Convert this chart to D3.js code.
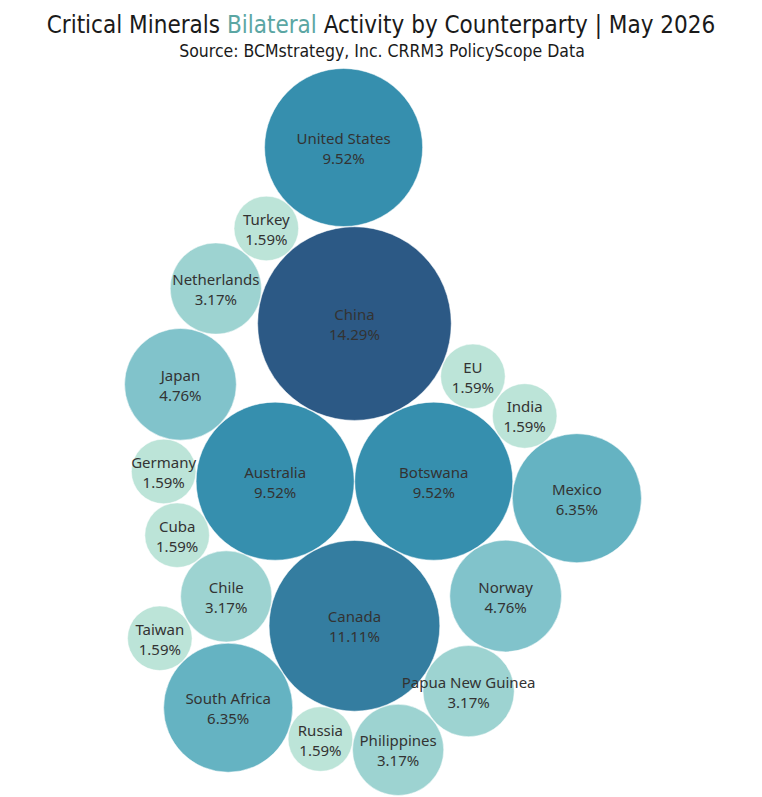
<!DOCTYPE html>
<html>
<head>
<meta charset="utf-8">
<script src="https://cdn.jsdelivr.net/npm/d3@7"></script>
<style>
  html, body { margin: 0; padding: 0; background: #fff; }
  svg { display: block; }
</style>
</head>
<body>
<div id="chart"></div>
<script>
// share of bilateral activity by counterparty (%)
const countries = ['China', 'Canada', 'United States', 'Australia', 'Botswana', 'Mexico', 'South Africa',
  'Japan', 'Norway', 'Netherlands', 'Chile', 'Papua New Guinea', 'Philippines',
  'Turkey', 'EU', 'India', 'Germany', 'Cuba', 'Taiwan', 'Russia'];
const shares = [14.29, 11.11, 9.52, 9.52, 9.52, 6.35, 6.35,
  4.76, 4.76, 3.17, 3.17, 3.17, 3.17,
  1.59, 1.59, 1.59, 1.59, 1.59, 1.59, 1.59];

// packing order: each bubble sits against two already placed bubbles, on the given side
const packOrder = [
  ['Botswana', 'Australia', null, 'right'],
  ['China', 'Australia', 'Botswana', 'up'],
  ['Canada', 'Australia', 'Botswana', 'down'],
  ['Chile', 'Australia', 'Canada', 'left'],
  ['Cuba', 'Australia', 'Chile', 'left'],
  ['Germany', 'Australia', 'Cuba', 'left'],
  ['Japan', 'Australia', 'Germany', 'up'],
  ['Netherlands', 'China', 'Japan', 'up'],
  ['Turkey', 'China', 'Netherlands', 'up'],
  ['United States', 'China', 'Turkey', 'up'],
  ['EU', 'China', 'Botswana', 'right'],
  ['India', 'EU', 'Botswana', 'right'],
  ['Mexico', 'India', 'Botswana', 'right'],
  ['Norway', 'Botswana', 'Mexico', 'down'],
  ['Papua New Guinea', 'Canada', 'Norway', 'down'],
  ['Philippines', 'Canada', 'Papua New Guinea', 'down'],
  ['Russia', 'Canada', 'Philippines', 'down'],
  ['South Africa', 'Canada', 'Russia', 'left'],
  ['Taiwan', 'Chile', 'South Africa', 'left']
];

const palette = ['#bce4d8', '#9dd3d1', '#81c3cb', '#65b3c2', '#45a2b9', '#368fae', '#347da0', '#306a93', '#2c5985'];

const width = 762;
const height = 797;
const plot = { top: 67, bottom: 797, left: 4, right: 762 };
const pad = 0.6;

const data = countries.map((c, i) => ({ name: c, value: shares[i] }));

const r = d3.scaleSqrt()
  .domain([0, d3.max(shares)])
  .range([0, 96.8]);

const color = d3.scaleSequential()
  .domain(d3.extent(shares))
  .interpolator(d3.piecewise(d3.interpolateRgb, palette));

// place bubbles
const byName = new Map(data.map(d => [d.name, d]));
data.forEach(d => { d.r = r(d.value); });

const dirs = { up: [0, -1], down: [0, 1], left: [-1, 0], right: [1, 0] };

const first = byName.get(packOrder[0][1]);
first.x = 0; first.y = 0;

packOrder.forEach(([name, an, bn, side]) => {
  const c = byName.get(name);
  const a = byName.get(an);
  const dv = dirs[side];
  if (!bn) {
    c.x = a.x + dv[0] * (a.r + c.r + pad);
    c.y = a.y + dv[1] * (a.r + c.r + pad);
    return;
  }
  const b = byName.get(bn);
  const da = a.r + c.r + pad;
  const db = b.r + c.r + pad;
  const dx = b.x - a.x, dy = b.y - a.y;
  const d = Math.hypot(dx, dy);
  const along = (da * da - db * db + d * d) / (2 * d);
  const h = Math.sqrt(Math.max(0, da * da - along * along));
  const px = a.x + along * dx / d, py = a.y + along * dy / d;
  const cands = [
    [px - h * dy / d, py + h * dx / d],
    [px + h * dy / d, py - h * dx / d]
  ];
  const best = d3.greatest(cands, p => p[0] * dv[0] + p[1] * dv[1] - (a.x + b.x) / 2 * dv[0] - (a.y + b.y) / 2 * dv[1]);
  c.x = best[0]; c.y = best[1];
});

// fit the cluster into the plot area
const x0 = d3.min(data, d => d.x - d.r), x1 = d3.max(data, d => d.x + d.r);
const y0 = d3.min(data, d => d.y - d.r), y1 = d3.max(data, d => d.y + d.r);
const cx = (plot.left + plot.right) / 2, cy = (plot.top + plot.bottom) / 2;
const x = d3.scaleLinear().domain([x0, x1]).range([cx - (x1 - x0) / 2, cx + (x1 - x0) / 2]);
const y = d3.scaleLinear().domain([y0, y1]).range([cy - (y1 - y0) / 2, cy + (y1 - y0) / 2]);

const svg = d3.select('#chart')
  .append('svg')
  .attr('width', width)
  .attr('height', height)
  .attr('viewBox', [0, 0, width, height]);

const title = svg.append('text')
  .attr('x', width / 2)
  .attr('y', 33)
  .attr('text-anchor', 'middle')
  .style('font-family', 'DejaVu Sans Condensed, DejaVu Sans, sans-serif')
  .style('font-size', '24px')
  .style('fill', '#1a1a1a');
title.append('tspan').text('Critical Minerals ');
title.append('tspan').style('fill', '#5ba6a3').text('Bilateral');
title.append('tspan').text(' Activity by Counterparty | May 2026');

svg.append('text')
  .attr('x', width / 2 + 1)
  .attr('y', 57)
  .attr('text-anchor', 'middle')
  .style('font-family', 'DejaVu Sans Condensed, DejaVu Sans, sans-serif')
  .style('font-size', '17.5px')
  .style('fill', '#1a1a1a')
  .text('Source: BCMstrategy, Inc. CRRM3 PolicyScope Data');

const node = svg.append('g')
  .selectAll('g')
  .data(data)
  .join('g')
  .attr('transform', d => `translate(${x(d.x)},${y(d.y)})`);

node.append('circle')
  .attr('r', d => d.r)
  .attr('fill', d => color(d.value))
  .attr('stroke', '#fff')
  .attr('stroke-width', 0.5);

const labels = node.append('text')
  .attr('text-anchor', 'middle')
  .style('font-family', 'Noto Sans, sans-serif')
  .style('font-size', '15px')
  .style('fill', '#333');

labels.append('tspan')
  .attr('x', 0)
  .attr('y', -3.5)
  .text(d => d.name);

labels.append('tspan')
  .attr('x', 0)
  .attr('y', 16.5)
  .text(d => d3.format('.2f')(d.value) + '%');
</script>
</body>
</html>
